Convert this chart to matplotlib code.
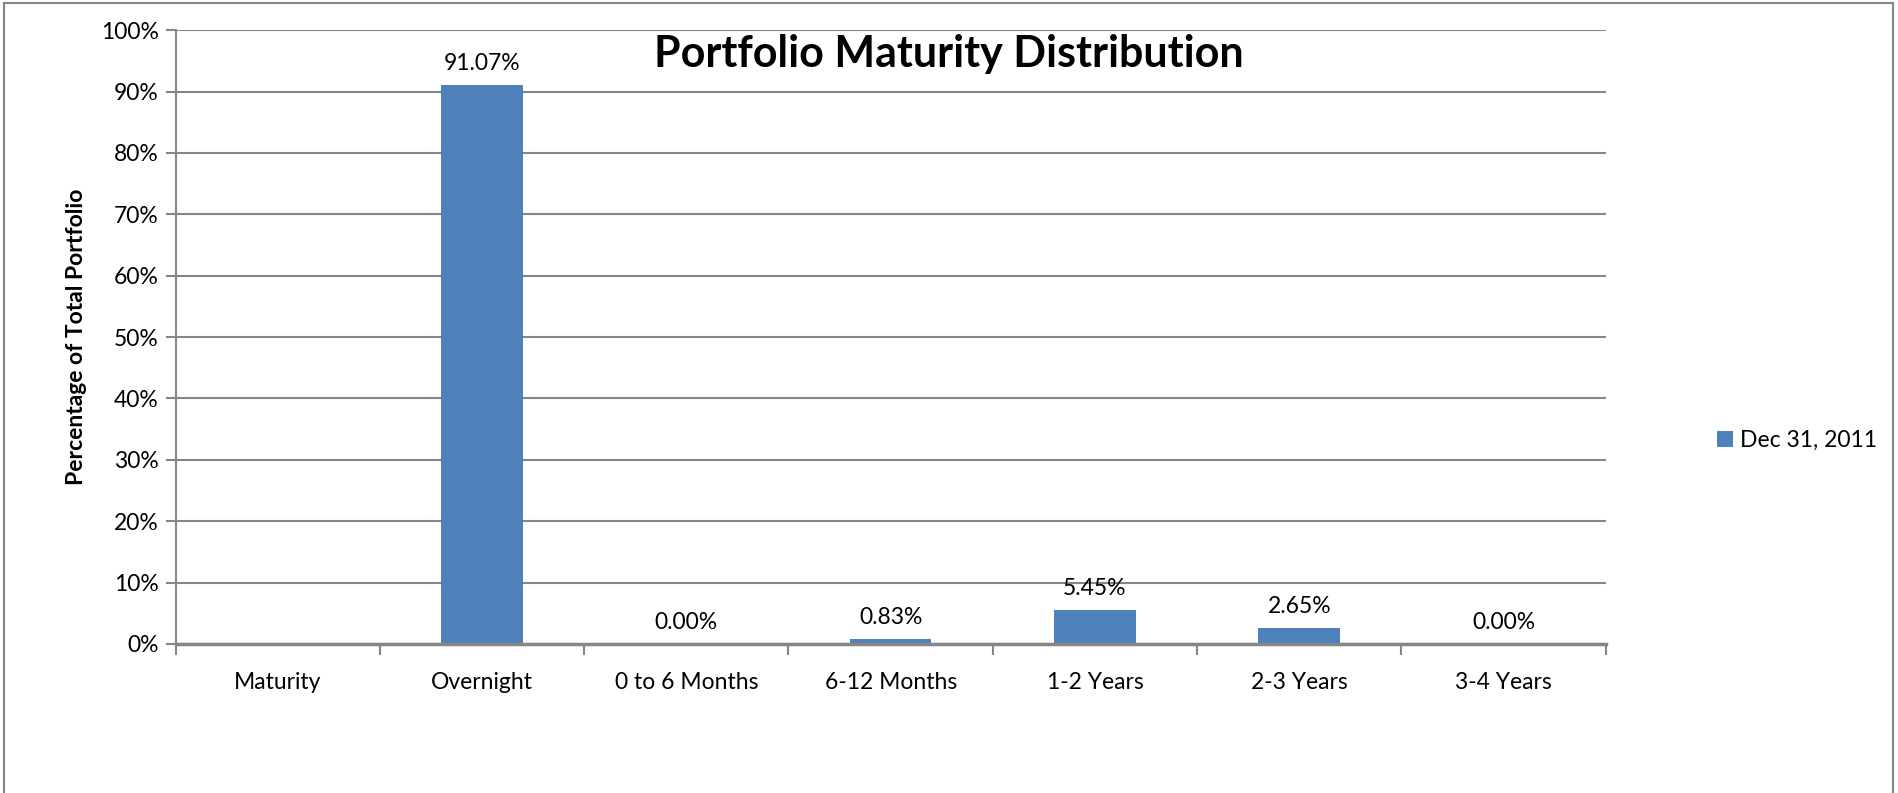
#!/usr/bin/env python3

import numpy as np
import matplotlib
matplotlib.use("Agg")
import matplotlib.pyplot as plt
from matplotlib.lines import Line2D
from matplotlib.patches import Patch

categories = ["Maturity", "Overnight", "0 to 6 Months", "6-12 Months",
              "1-2 Years", "2-3 Years", "3-4 Years"]
values = [None, 91.07, 0.00, 0.83, 5.45, 2.65, 0.00]
series_name = "Dec 31, 2011"
y_ticks = [0, 10, 20, 30, 40, 50, 60, 70, 80, 90, 100]

BAR_COLOR = "#4F81BD"
GRID_COLOR = "#868686"
FS = 16.5

plt.rcParams["font.family"] = ["Lato", "DejaVu Sans"]

fig = plt.figure(figsize=(18.98, 7.93), dpi=100)
ax = fig.add_axes([0.0925, 0.188, 0.7535, 0.774])

x = np.arange(len(categories))
heights = [0 if v is None else v for v in values]
ax.bar(x, heights, width=0.40, color=BAR_COLOR, zorder=3)

for xi, v in zip(x, values):
    if v is None:
        continue
    ax.annotate(f"{v:.2f}%", (xi, v), xytext=(0, 8), textcoords="offset points",
                ha="center", va="bottom", fontsize=FS, color="black")

ax.set_xlim(-0.5, len(categories) - 0.5)
ax.set_ylim(0, 100)
ax.set_yticks(y_ticks)
ax.set_yticklabels([f"{t}%" for t in y_ticks], fontsize=FS)
ax.yaxis.grid(True, color=GRID_COLOR, linewidth=1.5, zorder=0)

ax.set_xticks(x)
ax.set_xticklabels(categories, fontsize=FS)
ax.set_xticks(np.arange(len(categories) + 1) - 0.5, minor=True)
ax.tick_params(axis="x", which="major", length=0, pad=20)
ax.tick_params(axis="x", which="minor", length=8, width=1.5, color=GRID_COLOR)
ax.tick_params(axis="y", length=7, width=1.5, color=GRID_COLOR, pad=5)

for side in ["top", "right"]:
    ax.spines[side].set_visible(False)
ax.spines["left"].set_color(GRID_COLOR)
ax.spines["left"].set_linewidth(1.5)
ax.spines["bottom"].set_color(GRID_COLOR)
ax.spines["bottom"].set_linewidth(2.5)
ax.spines["bottom"].set_zorder(4)

ax.set_ylabel("Percentage of Total Portfolio", fontsize=FS, fontweight="bold",
              labelpad=10)

fig.text(0.50, 0.932, "Portfolio Maturity Distribution", ha="center", va="center",
         fontsize=31, fontweight="bold")

handle = Patch(facecolor=BAR_COLOR, edgecolor="none")
fig.legend([handle], [series_name], loc="center left",
           bbox_to_anchor=(0.894, 0.445), frameon=False, fontsize=FS,
           handlelength=0.7, handleheight=0.7, handletextpad=0.3)

# outer chart frame
frame = dict(color=GRID_COLOR, linewidth=1.5, transform=fig.transFigure)
fig.add_artist(Line2D([0.002, 0.002], [0.0, 0.996], **frame))
fig.add_artist(Line2D([0.002, 0.9975], [0.996, 0.996], **frame))
fig.add_artist(Line2D([0.9975, 0.9975], [0.0, 0.996], **frame))

fig.savefig("out.png", dpi=100)
